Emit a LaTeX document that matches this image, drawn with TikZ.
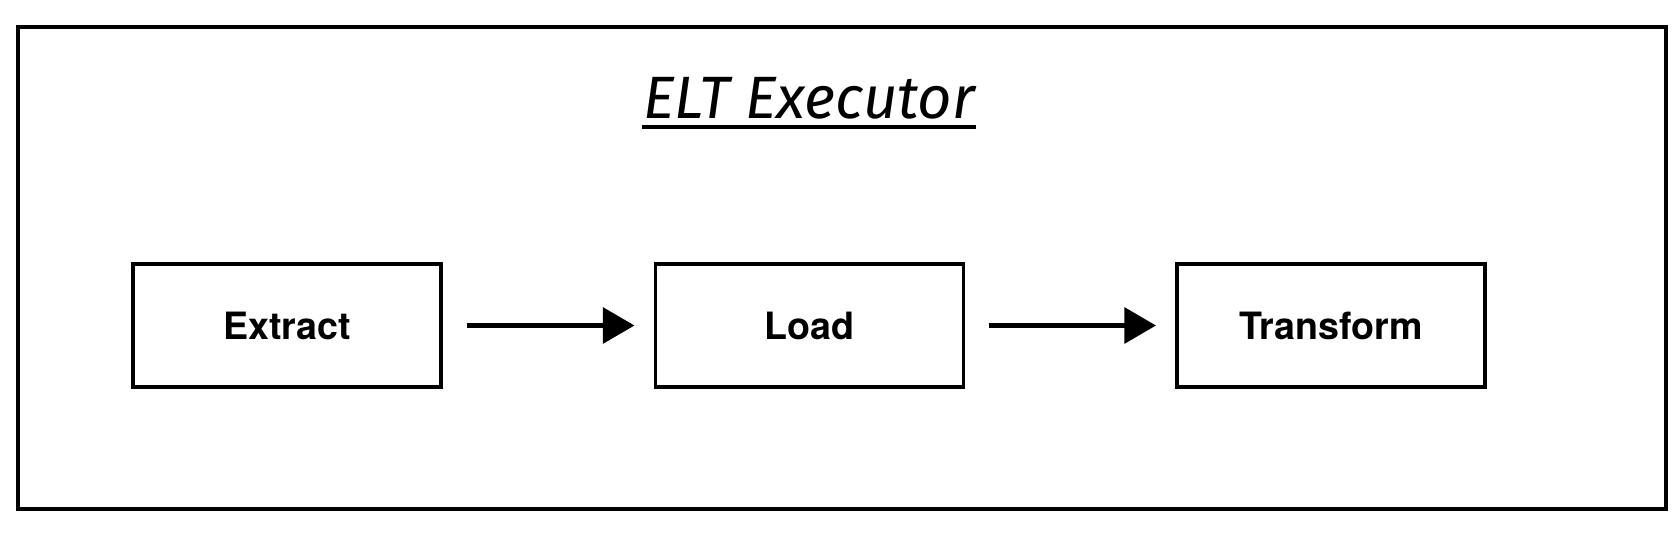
\documentclass[tikz,border=0pt]{standalone}
\usepackage{fontspec}
\setmainfont{TeX Gyre Heros}
\newfontfamily\handfont{Fira Sans}
\usetikzlibrary{arrows.meta,positioning}

\begin{document}
\begin{tikzpicture}[
    stage/.style={rectangle, draw=black, line width=1.1pt, minimum width=3.08cm, minimum height=1.23cm, font=\fontsize{10.7}{13}\selectfont\bfseries},
    conn/.style={draw=black, line width=1.6pt, -{Triangle[length=9pt,width=10pt]}}
    ]
    \useasboundingbox (0,0) rectangle (16.8,5.34);
    \draw[line width=1.1pt] (0.18,0.25) rectangle (16.66,5.07);

    \node[font=\handfont\itshape\fontsize{17}{20}\selectfont, anchor=base, inner sep=0pt] (title) at (8.09,4.15) {ELT Executor};
    \draw[line width=1.3pt] ([yshift=-0.08cm]title.base west) -- ([yshift=-0.08cm]title.base east);

    \node[stage] (extract) at (2.87,2.085) {Extract};
    \node[stage] (load) at (8.095,2.085) {Load};
    \node[stage] (transform) at (13.31,2.085) {Transform};

    \draw[conn] ([xshift=0.24cm]extract.east) -- ([xshift=-0.19cm]load.west);
    \draw[conn] ([xshift=0.24cm]load.east) -- ([xshift=-0.19cm]transform.west);
\end{tikzpicture}
\end{document}
